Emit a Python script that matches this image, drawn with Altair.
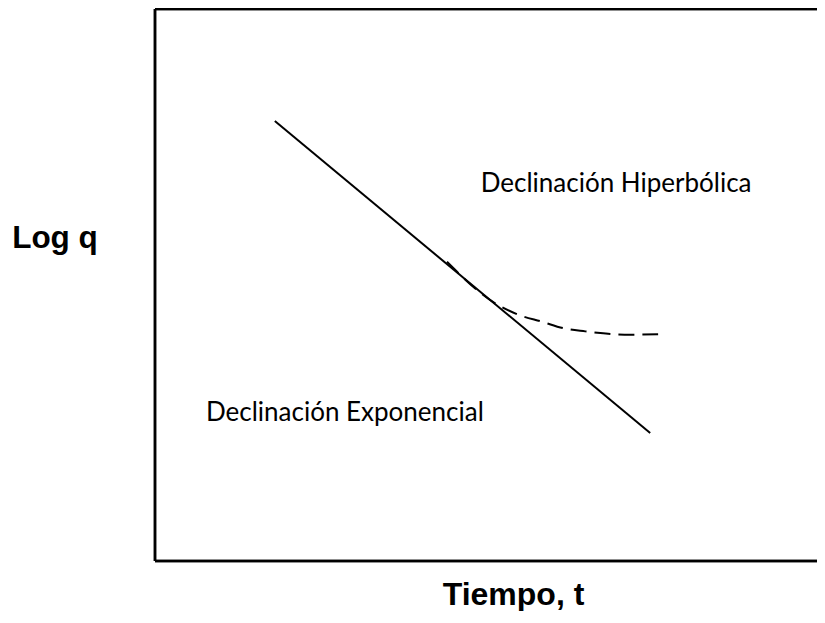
import altair as alt
import pandas as pd

# Data (arbitrary units: tiempo t, log q)
solid_t = [1.81, 7.48]
solid_v = [7.97, 2.32]

dash_t = [4.41, 5.11, 5.47, 5.86, 6.16, 6.50, 6.81, 7.18, 7.60]
dash_v = [5.42, 4.69, 4.47, 4.33, 4.22, 4.16, 4.12, 4.10, 4.11]

label_text = ["Declinación Hiperbólica", "Declinación Exponencial"]
label_t = [4.92, 0.77]
label_v = [6.68, 2.54]

W, H = 662, 552

solid_df = pd.DataFrame({"t": solid_t, "v": solid_v})
dash_df = pd.DataFrame({"t": dash_t, "v": dash_v})
label_df = pd.DataFrame({"text": label_text, "t": label_t, "v": label_v})

xs = alt.Scale(domain=[0, 10], nice=False, zero=False)
ys = alt.Scale(domain=[0, 10], nice=False, zero=False)

x_axis = alt.Axis(domain=False, ticks=False, labels=False, grid=False,
                  title="Tiempo, t", titleFont="Liberation Sans", titleFontWeight="bold",
                  titleFontSize=32, titleColor="black", titleX=358, titleY=43,
                  titleAlign="center", titleBaseline="alphabetic")
y_axis = alt.Axis(domain=False, ticks=False, labels=False, grid=False,
                  title="Log q", titleFont="Liberation Sans", titleFontWeight="bold",
                  titleFontSize=31.5, titleColor="black", titleAngle=0, titleX=-100.5, titleY=238,
                  titleAlign="center", titleBaseline="alphabetic")

solid = alt.Chart(solid_df).mark_line(color="black", strokeWidth=2).encode(
    x=alt.X("t:Q", scale=xs, axis=x_axis),
    y=alt.Y("v:Q", scale=ys, axis=y_axis),
)

dashed = alt.Chart(dash_df).mark_line(color="black", strokeWidth=2, strokeDash=[16, 8],
                                      interpolate="monotone").encode(
    x=alt.X("t:Q", scale=xs, axis=x_axis),
    y=alt.Y("v:Q", scale=ys, axis=y_axis),
)

labels = alt.Chart(label_df).mark_text(font="Lato", fontSize=26, color="black",
                                       align="left", baseline="alphabetic").encode(
    x=alt.X("t:Q", scale=xs, axis=x_axis),
    y=alt.Y("v:Q", scale=ys, axis=y_axis),
    text="text:N",
)

border_style = dict(color="black", strokeWidth=2.5, clip=False)
left_border = alt.Chart(solid_df).mark_rule(**border_style).encode(
    x=alt.value(0), y=alt.value(0), y2=alt.value(H))
top_border = alt.Chart(solid_df).mark_rule(**border_style).encode(
    x=alt.value(0), x2=alt.value(W), y=alt.value(0))
bottom_border = alt.Chart(solid_df).mark_rule(**border_style).encode(
    x=alt.value(0), x2=alt.value(W), y=alt.value(H))

chart = alt.layer(solid, dashed, labels, left_border, top_border, bottom_border).properties(
    width=W, height=H,
    autosize=alt.AutoSizeParams(type="none"),
    padding={"left": 147, "top": 1, "right": 0, "bottom": 50},
    background="white",
).configure_view(stroke="transparent", strokeWidth=0)

chart.save("out.html", embed_options={"renderer": "svg", "actions": False})
